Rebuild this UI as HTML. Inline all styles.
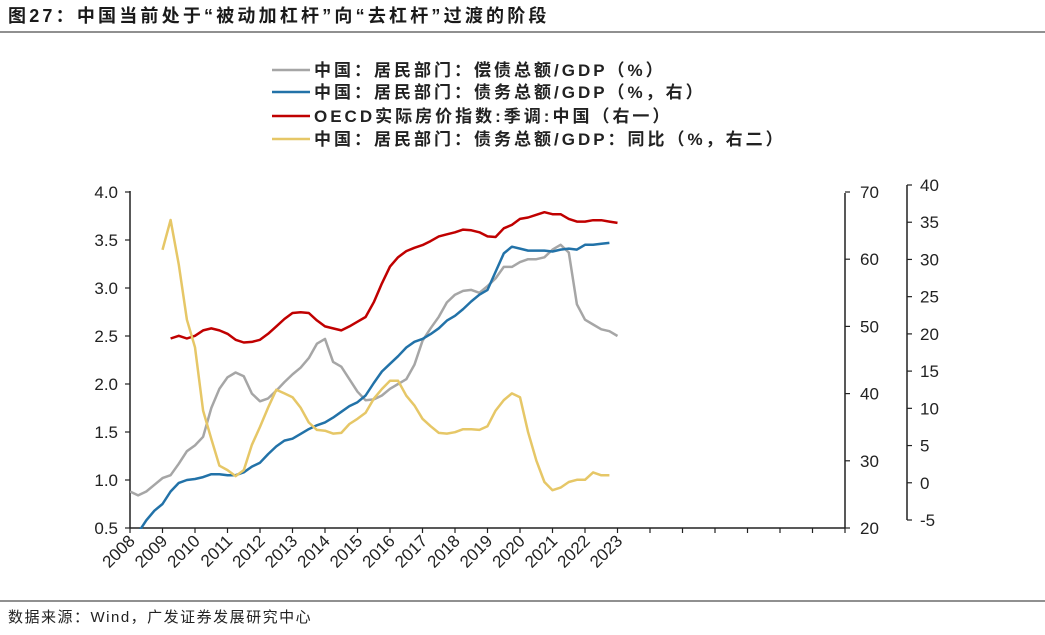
<!DOCTYPE html>
<html><head><meta charset="utf-8">
<style>
body{margin:0;background:#fff;width:1045px;height:630px;overflow:hidden;font-family:"Liberation Sans","Noto Sans CJK SC",sans-serif;}
svg text{font-family:"Liberation Sans","Noto Sans CJK SC",sans-serif;}
</style></head>
<body>
<svg width="1045" height="630" id="chart" xmlns="http://www.w3.org/2000/svg">
<text x="8" y="22" font-size="18" font-weight="bold" letter-spacing="3.2" fill="#1a1a1a">图27：中国当前处于“被动加杠杆”向“去杠杆”过渡的阶段</text>
<line x1="0" y1="32" x2="1045" y2="32" stroke="#222" stroke-width="1"/>
<line x1="0" y1="601" x2="1045" y2="601" stroke="#222" stroke-width="1"/>
<text x="8" y="622" font-size="15" letter-spacing="1.5" fill="#222">数据来源：Wind，广发证券发展研究中心</text>
<g id="legend" font-size="17" font-weight="bold" letter-spacing="3" fill="#222">
<g><line x1="272" y1="70" x2="310" y2="70" stroke="#a6a6a6" stroke-width="2.5"/><text x="314" y="76">中国：居民部门：偿债总额/GDP（%）</text></g>
<g><line x1="272" y1="92" x2="310" y2="92" stroke="#2272a8" stroke-width="2.5"/><text x="314" y="98">中国：居民部门：债务总额/GDP（%，右）</text></g>
<g><line x1="272" y1="116" x2="310" y2="116" stroke="#c00000" stroke-width="2.5"/><text x="314" y="122">OECD实际房价指数:季调:中国（右一）</text></g>
<g><line x1="272" y1="139" x2="310" y2="139" stroke="#e6c767" stroke-width="2.5"/><text x="314" y="145">中国：居民部门：债务总额/GDP：同比（%，右二）</text></g>
</g>
<defs><clipPath id="plotclip"><rect x="130" y="185" width="716" height="344"/></clipPath></defs>
<g id="axes"></g>
<g id="series" clip-path="url(#plotclip)"></g>
</svg>
<script>
const years = ['2008','2009','2010','2011','2012','2013','2014','2015','2016','2017','2018','2019','2020','2021','2022','2023'];
const leftTicks = ['0.5','1.0','1.5','2.0','2.5','3.0','3.5','4.0'];
const midTicks = ['20','30','40','50','60','70'];
const rightTicks = ['-5','0','5','10','15','20','25','30','35','40'];
const grayStart = 2008.0;
const grayVals = [0.88,0.84,0.88,0.95,1.02,1.05,1.17,1.30,1.36,1.45,1.75,1.95,2.07,2.12,2.08,1.90,1.82,1.85,1.93,2.02,2.10,2.17,2.27,2.42,2.47,2.23,2.18,2.05,1.92,1.83,1.84,1.88,1.95,2.00,2.05,2.20,2.45,2.58,2.70,2.85,2.93,2.97,2.98,2.95,3.02,3.10,3.22,3.22,3.27,3.30,3.30,3.32,3.40,3.45,3.37,2.83,2.67,2.62,2.57,2.55,2.50];
const blueStart = 2008.25;
const blueVals = [0.45,0.58,0.68,0.75,0.88,0.97,1.00,1.01,1.03,1.06,1.06,1.05,1.05,1.08,1.14,1.18,1.27,1.35,1.41,1.43,1.48,1.53,1.57,1.60,1.65,1.71,1.77,1.81,1.88,2.01,2.13,2.21,2.29,2.38,2.44,2.47,2.52,2.58,2.66,2.71,2.78,2.86,2.93,2.98,3.17,3.36,3.43,3.41,3.39,3.39,3.39,3.38,3.40,3.41,3.40,3.45,3.45,3.46,3.47];
const redStart = 2009.25;
const redVals = [48.2,48.6,48.2,48.6,49.4,49.7,49.4,48.9,48.0,47.6,47.7,48.0,48.9,50.0,51.1,52.0,52.1,52.0,50.9,50.0,49.7,49.4,50.0,50.7,51.4,53.6,56.4,58.9,60.3,61.2,61.7,62.1,62.7,63.4,63.7,64.0,64.4,64.3,64.0,63.4,63.3,64.6,65.1,66.0,66.2,66.6,67.0,66.7,66.7,66.0,65.6,65.6,65.8,65.8,65.6,65.4];
const yellowStart = 2009.0;
const yellowVals = [31.3,35.3,29.3,21.9,18.2,9.7,5.9,2.3,1.7,0.9,1.7,5.1,7.5,10.1,12.5,12.0,11.5,10.1,8.1,7.1,7.0,6.6,6.7,7.9,8.6,9.4,11.3,12.6,13.7,13.7,11.7,10.4,8.6,7.6,6.7,6.6,6.8,7.2,7.2,7.1,7.6,9.7,11.1,12.0,11.5,6.8,3.0,0.1,-1.0,-0.65,0.1,0.4,0.4,1.4,1.0,1.0];

const NS='http://www.w3.org/2000/svg';
const X0=130, YEARW=32.5;
const xs = t => X0 + (t-2008)*YEARW;
const yL = v => 528 - (v-0.5)*96;
const yM = v => 528 - (v-20)*6.72;
const yR = v => 520 - (v+5)*(335/45);
const axes=document.getElementById('axes'), series=document.getElementById('series');
function mk(tag, attrs, parent){const e=document.createElementNS(NS,tag);for(const k in attrs)e.setAttribute(k,attrs[k]);parent.appendChild(e);return e;}

let e=mk('line',{x1:X0,y1:191,x2:X0,y2:528,stroke:'#222','stroke-width':1.5},axes);


leftTicks.forEach(t=>{const y=yL(parseFloat(t));
 mk('line',{x1:X0-5,y1:y,x2:X0,y2:y,stroke:'#222','stroke-width':1.2},axes);
 const tx=mk('text',{x:X0-12,y:y+6,'font-size':17,'text-anchor':'end',fill:'#222'},axes);tx.textContent=t;
 
 });
e=mk('line',{x1:X0,y1:528,x2:845,y2:528,stroke:'#222','stroke-width':1.5},axes);


for(let i=0;i<=23;i++){const x=X0+i*YEARW; if(x>846)break;
 mk('line',{x1:x,y1:528,x2:x,y2:533,stroke:'#222','stroke-width':1.2},axes);}
years.forEach((yr,i)=>{const x=xs(2008+i);
 const tx=mk('text',{x:x+6,y:542,'font-size':17,'text-anchor':'end',fill:'#222',transform:`rotate(-45 ${x+6} 542)`},axes);tx.textContent=yr;
 
 });
e=mk('line',{x1:845,y1:193,x2:845,y2:528,stroke:'#222','stroke-width':1.5},axes);


midTicks.forEach(t=>{const y=yM(parseFloat(t));
 mk('line',{x1:845,y1:y,x2:850,y2:y,stroke:'#222','stroke-width':1.2},axes);
 const tx=mk('text',{x:860,y:y+6,'font-size':17,fill:'#222'},axes);tx.textContent=t;
 
 });
e=mk('line',{x1:907,y1:185,x2:907,y2:520,stroke:'#222','stroke-width':1.5},axes);


rightTicks.forEach(t=>{const y=yR(parseFloat(t));
 mk('line',{x1:907,y1:y,x2:912,y2:y,stroke:'#222','stroke-width':1.2},axes);
 const tx=mk('text',{x:920,y:y+6,'font-size':17,fill:'#222'},axes);tx.textContent=t;
 
 });

function line(vals,start,yf,color,name){
 const pts=vals.map((v,i)=>xs(start+i*0.25).toFixed(1)+','+yf(v).toFixed(1)).join(' ');
 const p=mk('polyline',{points:pts,fill:'none',stroke:color,'stroke-width':2.5,'stroke-linejoin':'round'},series);
 
 
}
line(grayVals,grayStart,yL,'#a6a6a6','gray-debt-service-line');
line(blueVals,blueStart,yL,'#2272a8','blue-debt-gdp-line');
line(redVals,redStart,yM,'#c00000','red-house-price-line');
line(yellowVals,yellowStart,yR,'#e6c767','yellow-debt-yoy-line');
</script>
</body></html>
